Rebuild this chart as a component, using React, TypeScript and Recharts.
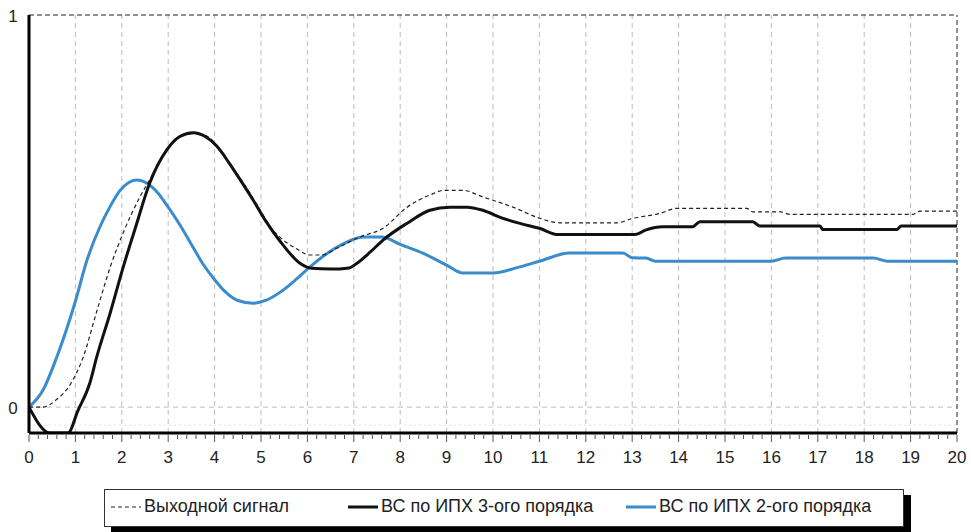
import React from 'react';
import { LineChart, Line, XAxis, YAxis, ReferenceLine } from 'recharts';

// axis ticks
const xTicks = [0, 1, 2, 3, 4, 5, 6, 7, 8, 9, 10, 11, 12, 13, 14, 15, 16, 17, 18, 19, 20];
const yTicks = [0, 1];

// Выходной сигнал (dashed)
const outputX = [0, 0.3, 0.6, 0.88, 1.17, 1.45, 1.75, 2.05, 2.39, 2.6, 2.9, 3.2, 3.5, 3.85, 4.2, 4.6, 4.98, 5.2, 5.48, 5.75, 6.05, 6.3, 6.63, 7.13, 7.63, 8.15, 8.64, 8.95, 9.35, 9.78, 10.43, 11.0, 11.44, 12.67, 13.0, 13.6, 13.97, 15.47, 15.6, 16.2, 16.4, 19.05, 19.2, 20];
const outputY = [0, 0.0, 0.02, 0.056, 0.128, 0.24, 0.357, 0.45, 0.536, 0.58, 0.645, 0.685, 0.7, 0.69, 0.64, 0.575, 0.503, 0.46, 0.426, 0.405, 0.388, 0.388, 0.405, 0.434, 0.456, 0.51, 0.541, 0.553, 0.553, 0.536, 0.51, 0.482, 0.47, 0.47, 0.481, 0.494, 0.507, 0.507, 0.498, 0.498, 0.4915, 0.4915, 0.5, 0.5];

// ВС по ИПХ 3-ого порядка (black)
const order3X = [0, 0.45, 0.84, 1.05, 1.31, 1.46, 1.75, 2.03, 2.3, 2.6, 2.97, 3.25, 3.54, 3.8, 4.05, 4.3, 4.55, 4.83, 5.1, 5.4, 5.84, 6.1, 6.5, 6.9, 7.07, 7.35, 7.63, 8.15, 8.64, 9.07, 9.44, 9.78, 10.2, 10.6, 11.0, 11.4, 12.3, 13.06, 13.3, 13.66, 14.3, 14.46, 15.6, 15.75, 17.05, 17.1, 18.7, 18.8, 20];
const order3Y = [0, -0.066, -0.066, -0.01, 0.061, 0.128, 0.24, 0.357, 0.46, 0.571, 0.656, 0.69, 0.7, 0.69, 0.665, 0.625, 0.58, 0.528, 0.475, 0.425, 0.367, 0.354, 0.352, 0.355, 0.367, 0.395, 0.426, 0.469, 0.502, 0.51, 0.51, 0.502, 0.482, 0.468, 0.456, 0.44, 0.44, 0.44, 0.452, 0.46, 0.46, 0.473, 0.473, 0.462, 0.462, 0.453, 0.453, 0.462, 0.462];

// ВС по ИПХ 2-ого порядка (blue)
const order2X = [0, 0.3, 0.6, 1, 1.25, 1.53, 1.75, 1.96, 2.15, 2.32, 2.5, 2.75, 3, 3.25, 3.5, 3.75, 4, 4.25, 4.5, 4.83, 5.1, 5.4, 5.75, 6.05, 6.4, 6.75, 7.2, 7.6, 8, 8.5, 9, 9.35, 10.0, 10.5, 11, 11.65, 12.8, 13.0, 13.3, 13.5, 16.0, 16.3, 18.2, 18.5, 20];
const order2Y = [0, 0.043, 0.128, 0.27, 0.375, 0.46, 0.512, 0.552, 0.573, 0.579, 0.574, 0.55, 0.51, 0.465, 0.415, 0.365, 0.325, 0.292, 0.272, 0.265, 0.272, 0.292, 0.325, 0.357, 0.39, 0.415, 0.434, 0.434, 0.415, 0.392, 0.362, 0.342, 0.342, 0.355, 0.372, 0.393, 0.393, 0.381, 0.38, 0.372, 0.372, 0.38, 0.38, 0.372, 0.372];

const toPoints = (xs: number[], ys: number[]) => xs.map((x, i) => ({ x, y: ys[i] }));

const series = [
  { key: 'order2', name: 'ВС по ИПХ 2-ого порядка', data: toPoints(order2X, order2Y), color: '#3a8ccc', width: 3, dash: undefined as string | undefined },
  { key: 'output', name: 'Выходной сигнал', data: toPoints(outputX, outputY), color: '#222', width: 1.2, dash: '4 3' },
  { key: 'order3', name: 'ВС по ИПХ 3-ого порядка', data: toPoints(order3X, order3Y), color: '#111', width: 3, dash: undefined as string | undefined },
];
const legendOrder = ['output', 'order3', 'order2'];
const legendLeft = [6, 243, 521];

// minor ticks every 0.2
const allTicks = xTicks.flatMap((t) => (t < 20 ? [t, t + 0.2, t + 0.4, t + 0.6, t + 0.8] : [t]));

const FONT = '"Liberation Sans", Arial, sans-serif';

const XTick = (props: any) => {
  const { x, y, payload } = props;
  const v = payload.value;
  const major = Number.isInteger(v);
  return (
    <g>
      <line x1={x} x2={x} y1={y + 2} y2={y + (major ? 9 : 6)} stroke="#555" strokeWidth={1} />
      {major && (
        <text x={x} y={y + 24} textAnchor="middle" dominantBaseline="central" fontFamily={FONT} fontSize={17} fill="#222">
          {v}
        </text>
      )}
    </g>
  );
};

const YTick = (props: any) => {
  const { y, payload } = props;
  return (
    <text x={13} y={y + 1} textAnchor="middle" dominantBaseline="central" fontFamily={FONT} fontSize={17} fill="#222">
      {payload.value}
    </text>
  );
};

const App: React.FC = () => {
  return (
    <div style={{ position: 'absolute', left: 0, top: 0, width: 971, height: 532, background: '#fff' }}>
      <LineChart width={971} height={532} margin={{ top: 15, right: 14, bottom: 0, left: 0 }}>
        <XAxis
          dataKey="x"
          type="number"
          domain={[0, 20]}
          ticks={allTicks}
          interval={0}
          allowDataOverflow
          height={99}
          tickSize={0}
          tickMargin={0}
          tickLine={false}
          axisLine={{ stroke: '#000', strokeWidth: 3 }}
          tick={<XTick />}
        />
        <YAxis
          dataKey="y"
          type="number"
          domain={[-0.066, 1]}
          ticks={yTicks}
          allowDataOverflow
          width={29}
          tickLine={false}
          axisLine={{ stroke: '#000', strokeWidth: 3 }}
          tick={<YTick />}
        />
        {xTicks.slice(1, 20).map((t) => (
          <ReferenceLine key={t} x={t} stroke="#bdbdbd" strokeDasharray="5 4" />
        ))}
        <ReferenceLine y={-0.046} stroke="#e2e2e2" strokeDasharray="2 3" />
        <ReferenceLine y={0} stroke="#bdbdbd" strokeDasharray="5 4" />
        <ReferenceLine y={1} stroke="#222" strokeDasharray="5 3" />
        <ReferenceLine x={20} stroke="#222" strokeDasharray="5 3" />
        {series.map((s) => (
          <Line
            key={s.key}
            data={s.data}
            dataKey="y"
            name={s.name}
            type="monotone"
            stroke={s.color}
            strokeWidth={s.width}
            strokeDasharray={s.dash}
            dot={false}
            activeDot={false}
            isAnimationActive={false}
          />
        ))}
      </LineChart>
      <div
        style={{
          position: 'absolute',
          left: 104,
          top: 489,
          width: 798,
          height: 36,
          border: '1px solid #333',
          background: '#fff',
          boxShadow: '7px 6px 0 #000',
          fontFamily: FONT,
          fontSize: 18,
          color: '#222',
        }}
      >
        {legendOrder.map((k, i) => {
          const s = series.find((d) => d.key === k)!;
          return (
            <div key={k} style={{ position: 'absolute', left: legendLeft[i], top: 6, display: 'flex', alignItems: 'center', whiteSpace: 'nowrap' }}>
              <svg width={30} height={10} style={{ marginRight: 3 }}>
                <line x1={0} x2={30} y1={5} y2={5} stroke={s.color} strokeWidth={s.key === 'output' ? 1.2 : 3} strokeDasharray={s.dash} />
              </svg>
              <span>{s.name}</span>
            </div>
          );
        })}
      </div>
    </div>
  );
};

export default App;
